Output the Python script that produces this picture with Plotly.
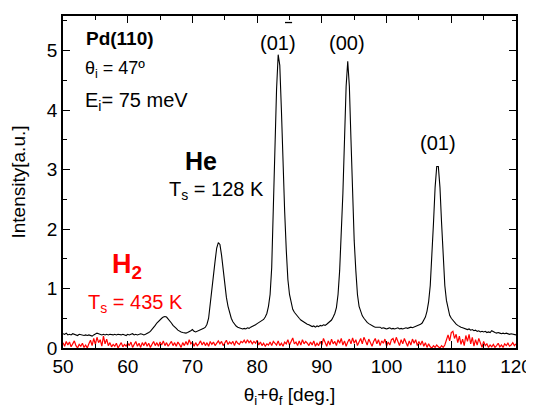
import numpy as np
import plotly.graph_objects as go

# scattering angle grid (deg), 0.25 deg steps
angle = np.round(np.arange(50.0, 120.0001, 0.25), 2)

he_intensity = [
    0.24, 0.23, 0.25, 0.22,  0.23, 0.22, 0.24, 0.23,  0.22, 0.21, 0.23, 0.22,
    0.22, 0.21, 0.22, 0.21,  0.22, 0.21, 0.20, 0.22,  0.23, 0.25, 0.24, 0.23,
    0.22, 0.23, 0.22, 0.23,  0.22, 0.23, 0.22, 0.22,  0.23, 0.22, 0.23, 0.22,
    0.22, 0.23, 0.22, 0.21,  0.23, 0.22, 0.23, 0.24,  0.22, 0.23, 0.22, 0.23,
    0.24, 0.23, 0.22, 0.23,  0.24, 0.26, 0.28, 0.31,  0.34, 0.38, 0.42, 0.45,
    0.47, 0.50, 0.52, 0.53,  0.52, 0.49, 0.45, 0.42,  0.38, 0.36, 0.33, 0.30,
    0.28, 0.27, 0.26, 0.25,  0.25, 0.26, 0.27, 0.29,  0.31, 0.28, 0.27, 0.28,
    0.29, 0.30, 0.31, 0.33,  0.35, 0.40, 0.50, 0.78,  0.98, 1.22, 1.46, 1.68,
    1.77, 1.74, 1.56, 1.30,  1.05, 0.85, 0.70, 0.58,  0.50, 0.44, 0.40, 0.37,
    0.35, 0.34, 0.33, 0.32,  0.33, 0.32, 0.34, 0.33,  0.35, 0.36, 0.38, 0.39,
    0.41, 0.43, 0.44, 0.46,  0.48, 0.52, 0.58, 0.70,  0.90, 1.35, 2.40, 3.40,
    4.35, 4.93, 4.75, 4.00,  3.00, 2.30, 1.65, 1.15,  0.90, 0.75, 0.65, 0.60,
    0.56, 0.52, 0.50, 0.47,  0.45, 0.43, 0.42, 0.40,  0.39, 0.38, 0.36, 0.37,
    0.35, 0.37, 0.36, 0.38,  0.37, 0.39, 0.38, 0.40,  0.42, 0.44, 0.47, 0.52,
    0.58, 0.68, 0.90, 1.30,  1.90, 2.60, 3.50, 4.40,  4.82, 4.40, 3.50, 2.50,
    1.80, 1.30, 0.90, 0.70,  0.60, 0.54, 0.50, 0.46,  0.43, 0.41, 0.39, 0.37,
    0.36, 0.35, 0.35, 0.34,  0.35, 0.33, 0.34, 0.33,  0.32, 0.33, 0.34, 0.32,
    0.33, 0.32, 0.33, 0.34,  0.32, 0.33, 0.32, 0.33,  0.34, 0.33, 0.34, 0.35,
    0.34, 0.35, 0.36, 0.37,  0.38, 0.40, 0.42, 0.46,  0.52, 0.62, 0.78, 1.05,
    1.50, 2.10, 2.70, 3.05,  3.05, 2.70, 2.10, 1.50,  1.05, 0.80, 0.65, 0.55,
    0.50, 0.46, 0.43, 0.40,  0.38, 0.36, 0.35, 0.34,  0.33, 0.32, 0.31, 0.32,
    0.30, 0.31, 0.29, 0.30,  0.28, 0.29, 0.27, 0.28,  0.27, 0.28, 0.26, 0.27,
    0.26, 0.29, 0.27, 0.26,  0.25, 0.26, 0.25, 0.24,  0.25, 0.24, 0.25, 0.24,
    0.23, 0.24, 0.23, 0.22,  0.22,
]

h2_intensity = [
    0.09, 0.03, 0.11, 0.05,  0.10, 0.02, 0.07, 0.12,  0.04, 0.00, 0.06, 0.03,
    0.08, 0.01, 0.05, 0.00,  0.07, 0.13, 0.04, 0.16,  0.06, 0.18, 0.09, 0.14,
    0.03, 0.20, 0.07, 0.15,  0.04, 0.09, 0.02, 0.06,  0.03, 0.08, 0.00, 0.05,
    0.09, 0.02, 0.06, 0.03,  0.08, 0.04, 0.10, 0.01,  0.06, 0.11, 0.03, 0.08,
    0.01, 0.09, 0.04, 0.10,  0.03, 0.08, 0.01, 0.06,  0.11, 0.04, 0.09, 0.03,
    0.10, 0.05, 0.12, 0.04,  0.09, 0.03, 0.08, 0.11,  0.04, 0.09, 0.03, 0.10,
    0.06, 0.01, 0.09, 0.04,  0.11, 0.05, 0.14, 0.07,  0.10, 0.03, 0.09, 0.04,
    0.07, 0.12, 0.05, 0.10,  0.04, 0.09, 0.03, 0.11,  0.06, 0.10, 0.04, 0.09,
    0.12, 0.07, 0.11, 0.04,  0.09, 0.13, 0.06, 0.10,  0.07, 0.11, 0.04, 0.12,
    0.08, 0.06, 0.11, 0.09,  0.13, 0.08, 0.14, 0.09,  0.12, 0.07, 0.11, 0.08,
    0.13, 0.05, 0.10, 0.04,  0.08, 0.03, 0.07, 0.05,  0.10, 0.04, 0.11, 0.07,
    0.05, 0.12, 0.04, 0.08,  0.03, 0.10, 0.07, 0.14,  0.05, 0.11, 0.17, 0.07,
    0.10, 0.04, 0.12, 0.05,  0.14, 0.07, 0.11, 0.08,  0.04, 0.10, 0.05, 0.12,
    0.03, 0.08, 0.04, 0.11,  0.05, 0.16, 0.08, 0.03,  0.12, 0.05, 0.15, 0.07,
    0.11, 0.04, 0.14, 0.08,  0.16, 0.05, 0.12, 0.03,  0.10, 0.15, 0.07, 0.17,
    0.08, 0.14, 0.04, 0.11,  0.16, 0.07, 0.18, 0.12,  0.05, 0.15, 0.08, 0.03,
    0.11, 0.16, 0.07, 0.14,  0.04, 0.12, 0.08, 0.15,  0.03, 0.10, 0.05, 0.14,
    0.16, 0.08, 0.18, 0.11,  0.04, 0.14, 0.07, 0.16,  0.10, 0.03, 0.12, 0.05,
    0.15, 0.08, 0.14, 0.04,  0.11, 0.05, 0.12, 0.03,  0.09, 0.01, 0.07, 0.02,
    0.00, 0.04, 0.01, 0.05,  0.02, 0.00, 0.04, 0.01,  0.05, 0.15, 0.22, 0.12,
    0.26, 0.28, 0.16, 0.23,  0.09, 0.20, 0.06, 0.15,  0.04, 0.21, 0.11, 0.23,
    0.07, 0.18, 0.03, 0.14,  0.05, 0.16, 0.07, 0.01,  0.11, 0.04, 0.07, 0.01,
    0.05, 0.02, 0.06, 0.01,  0.04, 0.08, 0.02, 0.05,  0.01, 0.07, 0.04, 0.08,
    0.03, 0.05, 0.09, 0.04,  0.07,
]

x_ticks = [50, 60, 70, 80, 90, 100, 110, 120]
y_ticks = [0, 1, 2, 3, 4, 5]

FONT = "Liberation Sans, Arial, Helvetica, sans-serif"

fig = go.Figure()
fig.add_trace(go.Scatter(x=angle, y=he_intensity, mode="lines",
                         line=dict(color="black", width=1.1), showlegend=False))
fig.add_trace(go.Scatter(x=angle, y=h2_intensity, mode="lines",
                         line=dict(color="#ff0000", width=1.2), showlegend=False))

axis_common = dict(showgrid=False, zeroline=False, showline=True, linecolor="black",
                   linewidth=1.5, mirror="ticks", ticks="inside", ticklen=7,
                   tickwidth=1.2, tickcolor="black", automargin=False,
                   tickfont=dict(family=FONT, size=19, color="black"))

fig.update_xaxes(range=[50, 120], tickvals=x_ticks,
                 minor=dict(ticks="inside", ticklen=4, dtick=5, tickcolor="black", tickwidth=1.2),
                 title=dict(text="θ<sub>i</sub>+θ<sub>f</sub> [deg.]",
                            font=dict(family=FONT, size=19, color="black"), standoff=12),
                 **axis_common)
fig.update_yaxes(range=[0, 5.58], tickvals=y_ticks,
                 minor=dict(ticks="inside", ticklen=4, dtick=0.5, tickcolor="black", tickwidth=1.2),
                 title=dict(text="Intensity[a.u.]",
                            font=dict(family=FONT, size=19, color="black"), standoff=18),
                 **axis_common)

def ann(x, y, text, size, color="black", xanchor="left", bold=False):
    if bold:
        text = "<b>" + text + "</b>"
    fig.add_annotation(x=x, y=y, xref="x", yref="y", text=text, showarrow=False,
                       xanchor=xanchor, yanchor="middle",
                       font=dict(family=FONT, size=size, color=color))

ann(53.3, 5.20, "Pd(110)", 19, bold=True)
ann(53.1, 4.68, "θ<sub>i</sub> = 47º", 18)
ann(53.1, 4.15, "E<sub>i</sub>= 75 meV", 20)
ann(71.3, 3.14, "He", 25, xanchor="center", bold=True)
ann(66.0, 2.64, "T<sub>s</sub> = 128 K", 20)
ann(57.2, 1.38, "H<sub>2</sub>", 27, color="#ff0000", bold=True)
ann(53.5, 0.74, "T<sub>s</sub> = 435 K", 20, color="#ff0000")
ann(83.15, 5.13, "(01)", 20, xanchor="center")
ann(93.9, 5.13, "(00)", 20, xanchor="center")
ann(107.95, 3.45, "(01)", 20, xanchor="center")

# overline (bar) on the "1" of the (0 -1) label
fig.add_shape(type="line", xref="x", yref="y", x0=84.3, x1=85.4, y0=5.47, y1=5.47,
              line=dict(color="black", width=1.3))

# the page body has an 8px default margin: shrink the figure and the
# top/left margins by 8px so the plot lands where the reference has it
fig.update_layout(width=526, height=400, margin=dict(l=55, r=18, t=8, b=60),
                  paper_bgcolor="white", plot_bgcolor="white",
                  font=dict(family=FONT, color="black"))

fig.write_html("out.html")
